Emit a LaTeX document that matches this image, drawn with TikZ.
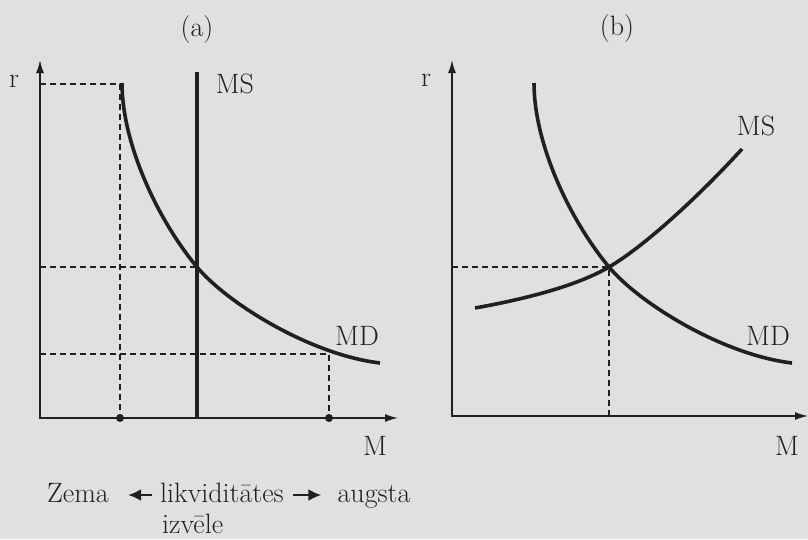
\documentclass[tikz,border=0pt]{standalone}
\usetikzlibrary{arrows.meta,positioning}
\definecolor{paper}{RGB}{224,224,222}
\definecolor{ink}{RGB}{32,32,32}

\begin{document}
\begin{tikzpicture}[x=1pt, y=-1pt, font=\fontsize{28}{32}\selectfont,
    >={Latex[length=13pt,width=8pt]},
    axis/.style={line width=1.6pt, ink},
    curve/.style={line width=3.6pt, ink},
    guide/.style={line width=1.3pt, ink, dash pattern=on 6pt off 4pt},
    dot/.style={circle, fill=ink, inner sep=0pt, minimum size=8pt},
    lbl/.style={inner sep=0pt, anchor=base, text=ink},
    pointer/.style={line width=2.6pt, ink, -{Latex[length=13pt,width=12pt]}}]
  \fill[paper] (0,0) rectangle (808,539);
  \useasboundingbox (0,0) rectangle (808,539);

  % (a): vertical money supply
  \coordinate (Oa) at (40,418);
  \coordinate (Ya) at (40,60);
  \coordinate (Xa) at (398,418);
  \coordinate (Ea) at (197,267);
  \coordinate (Ta) at (120,84);
  \coordinate (La) at (329,354);
  \draw[guide] (Oa |- Ta) -- (Ta) -- (Ta |- Oa);
  \draw[guide] (Oa |- Ea) -- (Ea);
  \draw[guide] (Oa |- La) -- (La) -- (La |- Oa);
  \draw[axis,<->] (Ya) -- (Oa) -- (Xa);
  \draw[curve] (197,72) -- (Ea |- Oa);
  \draw[curve] (122,83) .. controls (122,143) and (157,219) .. (Ea)
               .. controls (227,303) and (310,354.6) .. (380,363);
  \node[dot] (dlow) at (Ta |- Oa) {};
  \node[dot] (dhigh) at (La |- Oa) {};
  \node[lbl] (ttla) at (197,36) {(a)};
  \node[lbl] (ra) at (14,87) {r};
  \node[lbl] (msa) at (235,93) {MS};
  \node[lbl] (mda) at (357,345) {MD};
  \node[lbl] (ma) at (375,455) {M};
  % liquidity preference
  \node[lbl, anchor=base west] (likv) at (160,502) {likviditātes};
  \node[lbl, anchor=base west] (izv) at (162,533) {izvēle};
  \node[lbl] (zema) at (78,502) {Zema};
  \node[lbl] (augsta) at (374,502) {augsta};
  \draw[pointer] ([xshift=-8pt,yshift=7pt]likv.base west) -- ([xshift=19pt,yshift=7pt]zema.base east);
  \draw[pointer] ([xshift=9pt,yshift=7pt]likv.base east) -- ([xshift=-16pt,yshift=7pt]augsta.base west);

  % (b): rising money supply
  \coordinate (Ob) at (452,416);
  \coordinate (Yb) at (452,60);
  \coordinate (Xb) at (808,416);
  \coordinate (Eb) at (609,267);
  \draw[guide] (Ob |- Eb) -- (Eb) -- (Eb |- Ob);
  \draw[axis,<->] (Yb) -- (Ob) -- (Xb);
  \draw[curve] (534,83) .. controls (534,143) and (569,219) .. (Eb)
               .. controls (639,303) and (722,354.6) .. (792,363);
  \draw[curve] (475,308) .. controls (520,300) and (575,287) .. (Eb)
               .. controls (645,246) and (700,195) .. (742,149);
  \node[lbl] (ttlb) at (617,35) {(b)};
  \node[lbl] (rb) at (426,86) {r};
  \node[lbl] (msb) at (756,135) {MS};
  \node[lbl] (mdb) at (768,345) {MD};
  \node[lbl] (mb) at (787,455) {M};
\end{tikzpicture}
\end{document}
